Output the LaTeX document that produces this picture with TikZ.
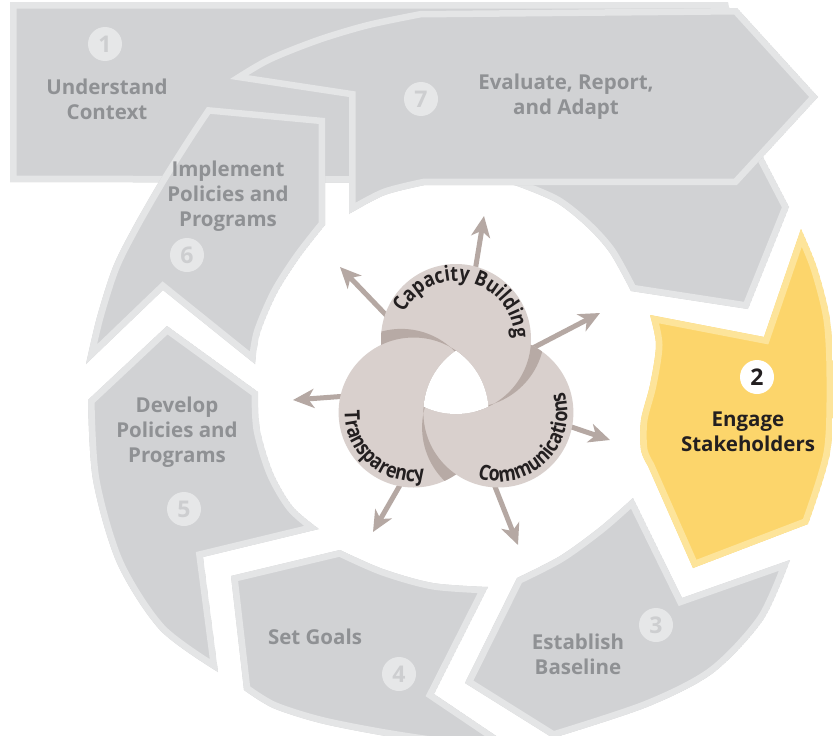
\documentclass[tikz,border=0pt]{standalone}
\usepackage{fontspec}
\setmainfont{Open Sans}
\newfontfamily\emblemfamily{Open Sans}[FakeStretch=0.85]
\usetikzlibrary{arrows.meta,decorations.text}

% palette
\definecolor{stepgray}{HTML}{D1D2D4}
\definecolor{stepedge}{HTML}{E4E5E6}
\definecolor{steptext}{HTML}{8F9194}
\definecolor{numdisc}{HTML}{E6E7E8}
\definecolor{numtext}{HTML}{CDCED0}
\definecolor{hilite}{HTML}{FCD56B}
\definecolor{hiliteedge}{HTML}{FDE49A}
\definecolor{ink}{HTML}{231F20}
\definecolor{taupe}{HTML}{D9D0CD}
\definecolor{taupeshade}{HTML}{B7AAA5}
\definecolor{rayc}{HTML}{B5A8A3}

% a filled step with a light band just inside its outline
\newcommand\stepshape[3]{%
  \begin{scope}
    \clip #3;
    \fill[#1] #3;
    \draw[#2, line width=13pt, line join=miter, miter limit=8] #3;
  \end{scope}}

% outlines of the seven steps (x to the right, y downwards)
\newcommand\segone{(10,2) -- (728,2) -- (757,150) -- (763,157) -- (789,207) -- (748,309) -- (631,291)
  -- plot[smooth] coordinates {(631,291) (610,253) (587,227) (557,203) (520,187) (505,183)}
  -- (10,182) -- cycle}
\newcommand\segseven{(230,79) -- plot[smooth] coordinates {(230,79) (267,57) (317,37) (367,22) (420,11)}
  -- (737,8) -- (818,97) -- (737,185) -- (425,185)
  -- plot[smooth] coordinates {(425,185) (385,195) (349,214)} -- (349,97) -- cycle}
\newcommand\segsix{(207,107) -- (325,118) -- (325,225)
  -- plot[smooth] coordinates {(325,225) (300,257) (277,293) (260,333) (255,364)}
  -- (163,290) -- (86,364)
  -- plot[smooth] coordinates {(86,364) (97,317) (113,267) (133,227) (160,180) (187,137) (207,107)} -- cycle}
\newcommand\segfive{(167,326) -- (258,392)
  -- plot[smooth] coordinates {(258,392) (260,430) (273,473) (293,507) (319,529)}
  -- (203,557) -- (218,672)
  -- plot[smooth] coordinates {(218,672) (160,630) (117,563) (93,480) (88,400)} -- cycle}
\newcommand\segfour{(231,576) -- (340,550)
  -- plot[smooth] coordinates {(340,550) (383,569) (433,583) (488,587)}
  -- (434,694) -- (520,752)
  -- plot[smooth] coordinates {(520,752) (440,744) (380,735) (320,723) (273,708) (244,690)} -- cycle}
\newcommand\segthree{(517,578) -- (465,683) -- (553,738)
  -- plot[smooth] coordinates {(553,738) (647,707) (713,673) (763,620) (790,560)}
  -- (682,598) -- (633,498)
  -- plot[smooth] coordinates {(633,498) (600,527) (560,556) (517,578)} -- cycle}
\newcommand\segtwo{(650,315) -- (764,337) -- (801,229)
  -- plot[smooth] coordinates {(801,229) (817,268) (830,320) (833,380) (830,453) (808,524)}
  -- (693,568) -- (648,466)
  -- plot[smooth] coordinates {(648,466) (641,450) (641,420) (650,385) (656,345) (650,315)} -- cycle}

\newcommand\emblemfont{\emblemfamily\bfseries\fontsize{21}{21}\selectfont}

\begin{document}
\begin{tikzpicture}[x=1pt, y=-1pt,
  steplabel/.style={align=center, text=steptext, inner sep=0pt,
    font=\bfseries\fontsize{20.5}{25}\selectfont},
  stepnum/.style={circle, fill=numdisc, text=numtext, minimum size=34pt, inner sep=0pt,
    font=\bfseries\fontsize{23}{23}\selectfont},
  ray/.style={draw=rayc, line width=5pt, -{Stealth[length=21pt, width=19pt, inset=6pt]}},
  disc/.style={fill=taupe},
  arctext/.style={decorate, decoration={text along path, text color=ink, text align=center}}]

\fill[white] (0,0) rectangle (833,736);
\useasboundingbox (0,0) rectangle (833,736);

% the cycle of steps
\stepshape{stepgray}{stepedge}{\segone}
\stepshape{stepgray}{stepedge}{\segseven}
\stepshape{stepgray}{stepedge}{\segsix}
\stepshape{stepgray}{stepedge}{\segfive}
\stepshape{stepgray}{stepedge}{\segfour}
\stepshape{stepgray}{stepedge}{\segthree}
\stepshape{hilite}{hiliteedge}{\segtwo}

% step numbers
\node[stepnum] (num1) at (105,44) {1};
\node[stepnum] (num7) at (421,99) {7};
\node[stepnum] (num6) at (187,255) {6};
\node[stepnum] (num5) at (184,509) {5};
\node[stepnum] (num4) at (399,674) {4};
\node[stepnum] (num3) at (656,625) {3};
\node[stepnum, fill=white, text=ink] (num2) at (757,377) {2};

% step titles
\node[steplabel] (lab1) at (107,99) {Understand\\Context};
\node[steplabel] (lab7) at (566,97) {Evaluate, Report,\\and Adapt};
\node[steplabel] (lab6) at (228,196) {Implement\\Policies and\\Programs};
\node[steplabel] (lab5) at (177,432) {Develop\\Policies and\\Programs};
\node[steplabel] (lab4) at (315,637) {Set Goals};
\node[steplabel] (lab3) at (578,654) {Establish\\Baseline};
\node[steplabel, text=ink] (lab2) at (748,432) {Engage\\Stakeholders};

% central emblem: rays first, then the three interlocking discs
\coordinate (hub) at (456,388);
\coordinate (capC) at (456,339);
\coordinate (trnC) at (413.6,412.5);
\coordinate (comC) at (498.4,412.5);
\coordinate (capS) at (469.6,332.6);
\coordinate (trnS) at (401.3,403.9);
\coordinate (comS) at (497.1,427.4);

\coordinate (rayN)  at (484,216);
\coordinate (rayNW) at (340,267);
\coordinate (rayNE) at (600,313);
\coordinate (rayW)  at (293,400);
\coordinate (rayE)  at (610,440);
\coordinate (raySW) at (373,532);
\coordinate (raySE) at (518,545);
\foreach \t in {rayN,rayNW,rayNE,rayW,rayE,raySW,raySE}
  \draw[ray] (hub) -- (\t);

\fill[disc] (capC) circle (75pt) (trnC) circle (75pt) (comC) circle (75pt);

% shadows where one ring passes over the next
\begin{scope}
  \clip (capC) circle (75pt);
  \fill[taupeshade, even odd rule] (trnS) circle (75pt) (trnC) circle (75pt);
\end{scope}
\begin{scope}
  \clip (comC) circle (75pt);
  \fill[taupeshade, even odd rule] (capS) circle (75pt) (capC) circle (75pt);
\end{scope}
\begin{scope}
  \clip (trnC) circle (75pt);
  \fill[taupeshade, even odd rule] (comS) circle (75pt) (comC) circle (75pt);
\end{scope}

% open centre
\begin{scope}
  \clip (capC) circle (75pt);
  \clip (trnC) circle (75pt);
  \fill[white] (comC) circle (75pt);
\end{scope}

% ring captions, set along polygonal arcs
\path[arctext, decoration={text={|\emblemfont|Capacity Building}}]
  plot[domain=0:180, samples=91] ({456+58*cos(193+\x)}, {339+58*sin(193+\x)});
\path[arctext, decoration={text={|\emblemfont|Transparency}}]
  plot[domain=0:180, samples=91] ({413.6+69*cos(221-\x)}, {412.5+69*sin(221-\x)});
\path[arctext, decoration={text={|\emblemfont|Communications}}]
  plot[domain=0:180, samples=91] ({498.4+69*cos(135-\x)}, {412.5+69*sin(135-\x)});

\end{tikzpicture}
\end{document}
